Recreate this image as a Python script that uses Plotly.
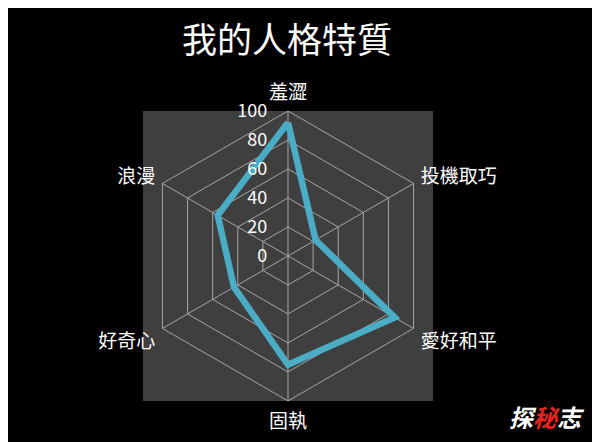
import plotly.graph_objects as go

# personality traits, clockwise from the top
traits = ["羞澀", "投機取巧", "愛好和平", "固執", "好奇心", "浪漫"]
scores = [92, 22, 85, 75, 43, 56]
radial_ticks = [0, 20, 40, 60, 80, 100]

title_text = "我的人格特質"
watermark = "探<span style='color:#e8231e'>秘</span>志"

fig = go.Figure()
fig.add_trace(
    go.Scatterpolar(
        r=scores + scores[:1],
        theta=traits + traits[:1],
        mode="lines",
        line=dict(color="#4bacc6", width=6.5),
        hoverinfo="r+theta",
    )
)

fig.update_layout(
    width=600,
    height=442,
    margin=dict(l=0, r=0, t=0, b=0),
    paper_bgcolor="#000000",
    plot_bgcolor="#000000",
    showlegend=False,
    font=dict(family="Noto Sans CJK TC", color="#ffffff"),
    title=dict(
        text=title_text,
        x=0.465,
        xanchor="center",
        y=0.927,
        yanchor="middle",
        font=dict(size=35, color="#ffffff", family="Noto Sans CJK TC"),
    ),
    polar=dict(
        domain=dict(x=[0.225, 0.7083], y=[0.111, 0.767]),
        bgcolor="rgba(0,0,0,0)",
        gridshape="linear",
        angularaxis=dict(
            direction="clockwise",
            rotation=90,
            gridcolor="#a6a6a6",
            gridwidth=1,
            linecolor="#a6a6a6",
            linewidth=1,
            showline=True,
            ticks="outside",
            ticklen=4,
            tickcolor="rgba(0,0,0,0)",
            tickfont=dict(size=19, color="#ffffff"),
        ),
        radialaxis=dict(
            range=[0, 100],
            tickvals=radial_ticks,
            angle=90,
            tickangle=90,
            side="counterclockwise",
            showline=False,
            ticks="outside",
            ticklen=14,
            tickcolor="rgba(0,0,0,0)",
            gridcolor="#a6a6a6",
            gridwidth=1,
            tickfont=dict(size=18, color="#ffffff"),
        ),
    ),
    shapes=[
        dict(
            type="rect",
            xref="paper",
            yref="paper",
            x0=135 / 600,
            x1=425 / 600,
            y0=49 / 442,
            y1=339 / 442,
            fillcolor="#3f3f3f",
            line=dict(width=0),
            layer="below",
        )
    ],
    annotations=[
        dict(
            text="<b><i>" + watermark + "</i></b>",
            xref="paper",
            yref="paper",
            x=0.898,
            y=0.075,
            xanchor="center",
            yanchor="middle",
            showarrow=False,
            font=dict(size=24, color="#ffffff", family="Noto Sans CJK SC"),
        )
    ],
)

fig.write_html("out.html")
